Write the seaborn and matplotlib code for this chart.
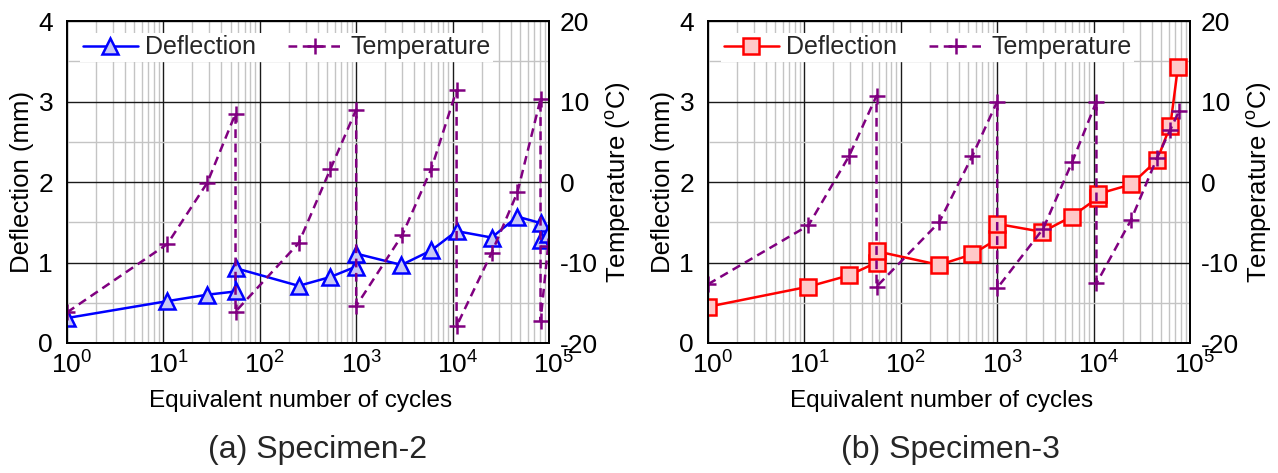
import matplotlib
matplotlib.use("Agg")
import matplotlib.pyplot as plt
from matplotlib.ticker import LogLocator, MultipleLocator, FixedLocator, NullFormatter, FixedFormatter
from matplotlib.transforms import ScaledTranslation
import seaborn as sns

# ---------------- data ----------------
# (a) Specimen-2
s2_defl_cycles = [1, 11, 28.5, 56, 56, 253, 540, 1000, 1000, 2950, 6000, 11000, 25400, 47000, 81700, 81700, 98000]
s2_defl_mm = [0.31, 0.52, 0.60, 0.64, 0.93, 0.71, 0.82, 0.95, 1.11, 0.97, 1.15, 1.39, 1.31, 1.57, 1.49, 1.28, 1.36]
s2_temp_cycles = [1, 11, 28.5, 56, 56, 253, 540, 1000, 1000, 3000, 6000, 11000, 11000, 25400, 47000, 81700, 81700, 98000]
s2_temp_c = [-16.2, -7.7, -0.1, 8.5, -16.1, -7.6, 1.6, 9.0, -15.4, -6.6, 1.6, 11.4, -17.9, -8.8, -1.3, 10.3, -17.3, -7.9]

# (b) Specimen-3
s3_defl_cycles = [1, 11, 29, 56, 56, 250, 545, 1000, 1000, 2950, 5900, 11000, 11000, 24500, 45500, 62500, 75000]
s3_defl_mm = [0.45, 0.70, 0.84, 1.00, 1.14, 0.97, 1.10, 1.29, 1.48, 1.38, 1.57, 1.80, 1.85, 1.97, 2.27, 2.70, 3.43]
s3_temp_cycles = [1, 11, 29, 56, 56, 250, 550, 1000, 1000, 3000, 6000, 10700, 10700, 24500, 45500, 62500, 77000]
s3_temp_c = [-12.7, -5.4, 3.2, 10.7, -13.0, -5.0, 3.2, 10.0, -13.2, -5.8, 2.5, 10.0, -12.6, -4.7, 3.0, 6.5, 8.8]

x_ticks = [1, 10, 100, 1000, 10000, 100000]
x_tick_labels = [r"$\mathregular{10^{%d}}$" % i for i in range(6)]
defl_ticks = [0, 1, 2, 3, 4]
temp_ticks = [-20, -10, 0, 10, 20]

panel_titles = ["(a) Specimen-2", "(b) Specimen-3"]

# ---------------- style ----------------
sns.set_theme(style="white")
plt.rcParams["font.family"] = ["Liberation Sans", "DejaVu Sans"]
plt.rcParams["mathtext.fontset"] = "custom"
plt.rcParams["mathtext.rm"] = "Liberation Sans"
plt.rcParams["mathtext.it"] = "Liberation Sans:italic"
plt.rcParams["axes.unicode_minus"] = False

W, H = 1278, 473
fig = plt.figure(figsize=(W / 100, H / 100), dpi=100)
fig.patch.set_facecolor("white")

TEMP_COLOR = "#800080"
TICK_FS = 19


def draw_panel(left_px, dc, dm, tc, tt, color, face, marker, msize, title, title_x, xlabel_x):
    ax = fig.add_axes([left_px / W, (H - 343) / H, 482 / W, 322 / H])
    ax.set_xscale("log")
    ax.set_xlim(1, 1e5)
    ax.set_ylim(0, 4)
    ax.xaxis.set_major_locator(FixedLocator(x_ticks))
    ax.xaxis.set_major_formatter(FixedFormatter(x_tick_labels))
    ax.xaxis.set_minor_locator(LogLocator(base=10, subs=range(2, 10), numticks=20))
    ax.xaxis.set_minor_formatter(NullFormatter())
    ax.yaxis.set_major_locator(FixedLocator(defl_ticks))
    ax.yaxis.set_minor_locator(MultipleLocator(0.5))
    ax.grid(True, which="minor", color="#c4c4c4", lw=1.0)
    ax.grid(True, which="major", color="#1a1a1a", lw=1.0)
    ax.set_axisbelow(True)
    for sp in ax.spines.values():
        sp.set_color("black")
        sp.set_linewidth(1.3)
    ax.tick_params(axis="x", which="both", length=0, labelsize=TICK_FS, pad=6, colors="black")
    ax.tick_params(axis="y", which="both", length=0, labelsize=TICK_FS, pad=10, colors="black")

    sns.lineplot(x=dc, y=dm, ax=ax, sort=False, estimator=None, color=color, lw=1.8,
                 marker=marker, ms=msize, mfc=face, mec=color, mew=1.8, legend=False)
    ax.set_xlim(1, 1e5)
    ax.set_ylim(0, 4)

    # centre the "10" of each 10^n label on its tick (superscript hangs to the right)
    shift = ScaledTranslation(5 / 100, 0, fig.dpi_scale_trans)
    for tk in ax.xaxis.get_major_ticks():
        tk.label1.set_transform(tk.label1.get_transform() + shift)

    ax2 = ax.twinx()
    sns.lineplot(x=tc, y=tt, ax=ax2, sort=False, estimator=None, color=TEMP_COLOR, lw=1.8,
                 linestyle=(0, (3.5, 2.2)), marker="+", ms=11, mew=1.8,
                 mec=TEMP_COLOR, mfc=TEMP_COLOR, legend=False)
    ax2.set_ylim(-20, 20)
    ax2.yaxis.set_major_locator(FixedLocator(temp_ticks))
    ax2.tick_params(axis="y", which="both", length=0, labelsize=TICK_FS, pad=8, colors="black")
    for sp in ax2.spines.values():
        sp.set_color("black")
        sp.set_linewidth(1.3)

    ax.set_xlabel("Equivalent number of cycles", fontsize=17.5, color="black")
    ax.xaxis.set_label_coords(xlabel_x, -0.147)
    ax.set_ylabel("Deflection (mm)", fontsize=18.5, color="black")
    ax.yaxis.set_label_coords(-0.068, 0.5)
    ax2.set_ylabel(r"Temperature ($^{\mathrm{o}}$C)", fontsize=18.5, color="black")
    ax2.yaxis.set_label_coords(1.115, 0.5)

    h1 = ax.get_lines()[0]
    h2 = ax2.get_lines()[0]
    leg = ax2.legend([h1, h2], ["Deflection", "Temperature"], loc="center left",
                     bbox_to_anchor=(0.027, 0.870, 0.857, 0.096), mode="expand", ncol=2,
                     frameon=True, fancybox=False, edgecolor="none", facecolor="white",
                     framealpha=1, fontsize=18, handlelength=2.2, handletextpad=0.3,
                     borderpad=0.1, columnspacing=1.5, numpoints=1, borderaxespad=0)
    leg.get_frame().set_linewidth(0)

    fig.text(title_x / W, (H - 450) / H, title, ha="center", va="center", fontsize=23)
    return ax, ax2


draw_panel(67, s2_defl_cycles, s2_defl_mm, s2_temp_cycles, s2_temp_c,
           "#0000ff", "#c8c8f4", "^", 11, panel_titles[0], 318, 0.484)
draw_panel(708, s3_defl_cycles, s3_defl_mm, s3_temp_cycles, s3_temp_c,
           "#ff0000", "#ffc8c8", "s", 11, panel_titles[1], 950, 0.485)

fig.savefig("out.png", dpi=100)
